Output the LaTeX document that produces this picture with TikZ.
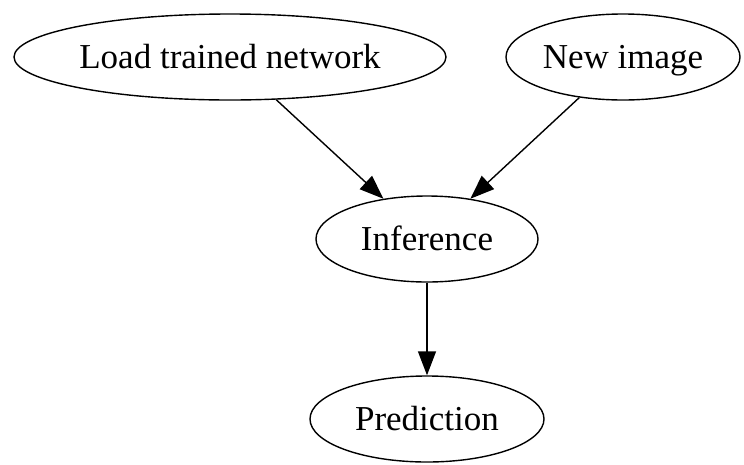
\documentclass[tikz,border=0pt]{standalone}
\usepackage{fontspec}
\setmainfont{Liberation Serif}
\usetikzlibrary{shapes.geometric,arrows.meta}
\begin{document}
\begin{tikzpicture}[x=1pt,y=-1pt,
  stage/.style={ellipse,draw,line width=1.4pt,inner sep=0pt,
    font=\fontsize{35}{40}\selectfont,text height=25pt,text depth=3pt,
    minimum height=86pt},
  flow/.style={line width=1.4pt,-{Triangle[length=24pt,width=18pt]}}]
\useasboundingbox (0,0) rectangle (744,464);
\node[stage,minimum width=432pt] (load) at (230,57) {Load trained network};
\node[stage,minimum width=234pt] (img) at (623,57) {New image};
\node[stage,minimum width=222pt] (inf) at (427,239) {Inference};
\node[stage,minimum width=234pt] (pred) at (427,419) {Prediction};
\draw[flow] (load) -- (inf);
\draw[flow] (img) -- (inf);
\draw[flow] (inf) -- (pred);
\end{tikzpicture}
\end{document}
